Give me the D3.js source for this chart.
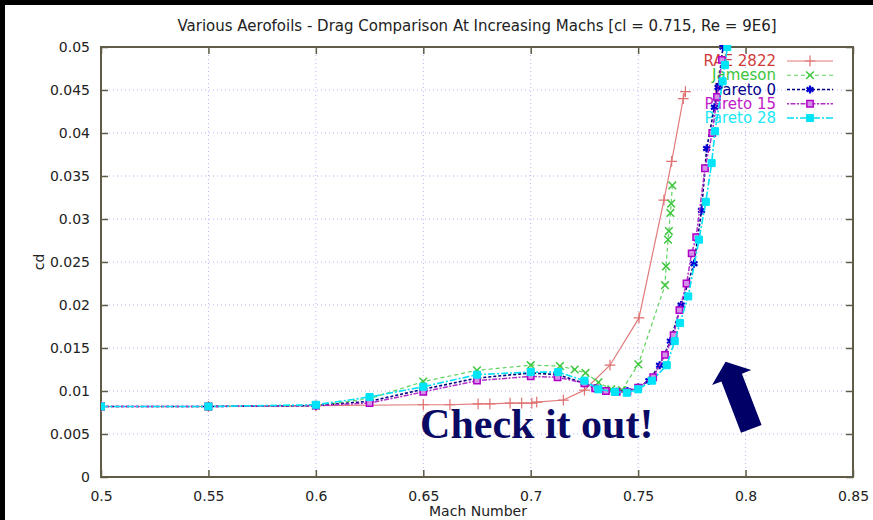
<!DOCTYPE html>
<html>
<head>
<meta charset="utf-8">
<script src="https://cdn.jsdelivr.net/npm/d3@7/dist/d3.min.js"></script>
<style>
  html, body { margin: 0; padding: 0; background: #000; }
  svg { display: block; font-family: "DejaVu Sans", "Liberation Sans", sans-serif; }
</style>
</head>
<body>
<svg id="chart" width="873" height="520"></svg>
<script>
// ---------- data ----------
const titleText = "Various Aerofoils - Drag Comparison At Increasing Machs [cl = 0.715, Re = 9E6]";
const xLabelText = "Mach Number";
const yLabelText = "cd";

const machTicks = [0.5, 0.55, 0.6, 0.65, 0.7, 0.75, 0.8, 0.85];
const machTickLabels = ["0.5", "0.55", "0.6", "0.65", "0.7", "0.75", "0.8", "0.85"];
const cdTicks = [0, 0.005, 0.01, 0.015, 0.02, 0.025, 0.03, 0.035, 0.04, 0.045, 0.05];
const cdTickLabels = ["0", "0.005", "0.01", "0.015", "0.02", "0.025", "0.03", "0.035", "0.04", "0.045", "0.05"];

const seriesNames = ["RAE 2822", "Jameson", "Pareto 0", "Pareto 15", "Pareto 28"];

const raeMach = [0.5, 0.55, 0.6, 0.65, 0.6624, 0.6755, 0.681, 0.6904, 0.6958, 0.7005, 0.7028, 0.7152, 0.725, 0.7369, 0.7504, 0.762, 0.7656, 0.771, 0.772];
const raeCd   = [0.0082, 0.0082, 0.0083, 0.0084, 0.0084, 0.0085, 0.0085, 0.0086, 0.0086, 0.0086, 0.0087, 0.00895, 0.0101, 0.0130, 0.0185, 0.0322, 0.0367, 0.0440, 0.0448];

const jamMach = [0.5, 0.55, 0.6, 0.625, 0.65, 0.675, 0.7, 0.7136, 0.7205, 0.7255, 0.7315, 0.7375, 0.7425, 0.7501, 0.7625, 0.763, 0.7639, 0.7643, 0.765, 0.7654, 0.7659];
const jamCd   = [0.0082, 0.0082, 0.0083, 0.0091, 0.0111, 0.0124, 0.0130, 0.0129, 0.0125, 0.0121, 0.0110, 0.0102, 0.0101, 0.0131, 0.0223, 0.0245, 0.0276, 0.0286, 0.0307, 0.0318, 0.0339];

const p0Mach = [0.5, 0.55, 0.6, 0.625, 0.65, 0.675, 0.7, 0.7125, 0.725, 0.73, 0.735, 0.74, 0.745, 0.75, 0.755, 0.76, 0.765, 0.77, 0.776, 0.7795, 0.7819, 0.7855, 0.7872, 0.7895];
const p0Cd   = [0.0082, 0.0082, 0.0083, 0.0088, 0.0102, 0.0115, 0.0121, 0.0119, 0.0109, 0.0103, 0.0100, 0.0099, 0.0100, 0.0104, 0.0112, 0.0130, 0.0158, 0.0200, 0.0248, 0.0310, 0.0382, 0.0430, 0.0453, 0.0500];

const p15Mach = [0.5, 0.55, 0.6, 0.625, 0.65, 0.675, 0.7, 0.7125, 0.725, 0.73, 0.735, 0.74, 0.745, 0.75, 0.757, 0.7625, 0.7665, 0.7692, 0.7725, 0.7749, 0.777, 0.7811, 0.7845, 0.7867, 0.789];
const p15Cd   = [0.0082, 0.0082, 0.0083, 0.0086, 0.0099, 0.0112, 0.0117, 0.0116, 0.0109, 0.0103, 0.0100, 0.0099, 0.0099, 0.0104, 0.0116, 0.0142, 0.0165, 0.0194, 0.0225, 0.0260, 0.0279, 0.0359, 0.0400, 0.0442, 0.0485];

const p28Mach = [0.5, 0.55, 0.6, 0.625, 0.65, 0.675, 0.7, 0.7128, 0.725, 0.7315, 0.7392, 0.7447, 0.75, 0.7565, 0.7633, 0.767, 0.7695, 0.7733, 0.7783, 0.7815, 0.7842, 0.7858, 0.7893, 0.7904, 0.7915];
const p28Cd   = [0.0082, 0.0082, 0.0084, 0.0093, 0.0105, 0.0119, 0.0122, 0.0122, 0.0112, 0.0102, 0.0099, 0.0098, 0.0102, 0.0112, 0.0130, 0.0158, 0.0179, 0.0210, 0.0276, 0.0320, 0.0365, 0.0402, 0.0460, 0.0479, 0.0500];

const annotationText = "Check it out!";
const annotationAt = [0.6485, 0.00453];      // mach, cd of text start/baseline
const arrowTipAt = [0.7907, 0.01341];        // mach, cd of arrow tip

// ---------- styles ----------
const styles = [
  { color: "#e27b7b", mcolor: "#e07070", txt: "#d03a3a", dash: null,        width: 1.2, symbol: d3.symbolPlus,     msize: 40, fill: "none",    mstroke: 1.2 },
  { color: "#5fd35f", mcolor: "#3fc83f", txt: "#3cc43c", dash: "4,3",       width: 1.2, symbol: d3.symbolX,        msize: 40, fill: "none",    mstroke: 1.5 },
  { color: "#000080", mcolor: "#0000d0", txt: "#00008c", dash: "3,2",       width: 1.6, symbol: d3.symbolAsterisk, msize: 45, fill: "none",    mstroke: 2.2 },
  { color: "#b02ec8", mcolor: "#b000c8", txt: "#c020c8", dash: "2,1.5,5,1.5", width: 1.5, symbol: d3.symbolSquare,   msize: 40, fill: "#d590e8", mstroke: 1.5 },
  { color: "#00e0f4", mcolor: "#00e4f8", txt: "#20e8f8", dash: "7,2,2,2",   width: 1.6, symbol: d3.symbolSquare,   msize: 50, fill: "#00e4f8", mstroke: 1 }
];
const seriesMach = [raeMach, jamMach, p0Mach, p15Mach, p28Mach];
const seriesCd = [raeCd, jamCd, p0Cd, p15Cd, p28Cd];

// ---------- layout ----------
const W = 873, H = 520;
const plot = { left: 101, right: 853, top: 47, bottom: 477 };

const svg = d3.select("#chart");
svg.append("rect").attr("x", 0).attr("y", 0).attr("width", W).attr("height", H).attr("fill", "#000");
svg.append("rect").attr("x", 5).attr("y", 5).attr("width", W - 5).attr("height", H - 5).attr("fill", "#fff");

const x = d3.scaleLinear().domain([0.5, 0.85]).range([plot.left, plot.right]);
const y = d3.scaleLinear().domain([0, 0.05]).range([plot.bottom, plot.top]);

// grid
const grid = svg.append("g");
grid.selectAll("line.gx").data(machTicks.slice(1, -1)).join("line")
  .attr("x1", d => x(d)).attr("x2", d => x(d))
  .attr("y1", plot.top).attr("y2", plot.bottom)
  .attr("stroke", "#b4b4f4").attr("stroke-width", 1).attr("stroke-dasharray", "1,3");
grid.selectAll("line.gy").data(cdTicks.slice(1, -1)).join("line")
  .attr("y1", d => y(d)).attr("y2", d => y(d))
  .attr("x1", plot.left).attr("x2", plot.right)
  .attr("stroke", "#b4b4f4").attr("stroke-width", 1).attr("stroke-dasharray", "1,3");

// axes
const axisColor = "#605c48";
const tickLen = 7;
function styleAxis(g) {
  g.select(".domain").remove();
  g.selectAll(".tick line").attr("stroke", axisColor).attr("stroke-width", 1.5);
  g.selectAll(".tick text").attr("fill", "#222")
    .style("font-size", "14px")
    .style("font-family", "'DejaVu Sans', 'Liberation Sans', sans-serif");
}
svg.append("g").attr("transform", `translate(0,${plot.bottom})`)
  .call(d3.axisBottom(x).tickValues(machTicks).tickFormat((d, i) => machTickLabels[i]).tickSize(-tickLen).tickPadding(14))
  .call(styleAxis);
svg.append("g").attr("transform", `translate(${plot.left},0)`)
  .call(d3.axisLeft(y).tickValues(cdTicks).tickFormat((d, i) => cdTickLabels[i]).tickSize(-tickLen).tickPadding(11))
  .call(styleAxis);
svg.append("g").attr("transform", `translate(0,${plot.top})`)
  .call(d3.axisTop(x).tickValues(machTicks).tickFormat("").tickSize(-tickLen))
  .call(styleAxis);
svg.append("g").attr("transform", `translate(${plot.right},0)`)
  .call(d3.axisRight(y).tickValues(cdTicks).tickFormat("").tickSize(-tickLen))
  .call(styleAxis);

// frame
svg.append("rect")
  .attr("x", plot.left).attr("y", plot.top)
  .attr("width", plot.right - plot.left).attr("height", plot.bottom - plot.top)
  .attr("fill", "none").attr("stroke", axisColor).attr("stroke-width", 2);

// titles
svg.append("text").attr("x", 477).attr("y", 31).attr("text-anchor", "middle")
  .style("font-size", "15px").attr("fill", "#222").text(titleText);
svg.append("text").attr("x", 478).attr("y", 516).attr("text-anchor", "middle")
  .style("font-size", "14px").attr("fill", "#222").text(xLabelText);
svg.append("text").attr("transform", "translate(44,262) rotate(-90)").attr("text-anchor", "middle")
  .style("font-size", "14px").attr("fill", "#222").text(yLabelText);

// legend (drawn under the curves)
const legend = svg.append("g");
const legendRowY = d3.scaleLinear().domain([0, 4]).range([61, 118]);
seriesNames.forEach((name, i) => {
  const s = styles[i];
  const ly = legendRowY(i);
  legend.append("text").attr("x", 776).attr("y", ly + 5).attr("text-anchor", "end")
    .style("font-size", "15px").attr("fill", s.txt).text(name);
  legend.append("line").attr("x1", 787).attr("x2", 833).attr("y1", ly).attr("y2", ly)
    .attr("stroke", s.color).attr("stroke-width", s.width).attr("stroke-dasharray", s.dash);
  legend.append("path").attr("transform", `translate(810,${ly})`)
    .attr("d", d3.symbol().type(s.symbol).size(s.msize)())
    .attr("fill", s.fill).attr("stroke", s.mcolor).attr("stroke-width", s.mstroke);
});

// curves
svg.append("clipPath").attr("id", "clip").append("rect")
  .attr("x", plot.left).attr("y", plot.top - 2)
  .attr("width", plot.right - plot.left).attr("height", plot.bottom - plot.top + 2);
const curves = svg.append("g").attr("clip-path", "url(#clip)");
const line = d3.line().x(d => x(d[0])).y(d => y(d[1]));
seriesNames.forEach((name, i) => {
  const s = styles[i];
  const pts = seriesMach[i].map((m, j) => [m, seriesCd[i][j]]);
  curves.append("path").datum(pts).attr("d", line)
    .attr("fill", "none").attr("stroke", s.color).attr("stroke-width", s.width)
    .attr("stroke-dasharray", s.dash);
  curves.selectAll(null).data(pts).join("path")
    .attr("transform", d => `translate(${x(d[0])},${y(d[1])})`)
    .attr("d", d3.symbol().type(s.symbol).size(s.msize)())
    .attr("fill", s.fill).attr("stroke", s.mcolor).attr("stroke-width", s.mstroke);
});

// annotation text
svg.append("text").attr("x", x(annotationAt[0])).attr("y", y(annotationAt[1]))
  .style("font-family", "'Liberation Serif', 'Times New Roman', serif")
  .style("font-weight", "bold")
  .style("font-size", "42px").attr("fill", "#0a0a64").text(annotationText);

// arrow annotation
(function () {
  const tx = x(arrowTipAt[0]), ty = y(arrowTipAt[1]);
  const len = 72, headLen = 17, headHalf = 21, shaftHalf = 11;
  const ux = 0.357, uy = 0.934;       // direction tip -> tail
  const nx = 0.934, ny = -0.357;      // perpendicular
  const hb = [tx + ux * headLen, ty + uy * headLen];
  const tb = [tx + ux * len, ty + uy * len];
  const pts = [
    [tx, ty],
    [hb[0] - nx * headHalf, hb[1] - ny * headHalf],
    [hb[0] - nx * shaftHalf, hb[1] - ny * shaftHalf],
    [tb[0] - nx * shaftHalf, tb[1] - ny * shaftHalf],
    [tb[0] + nx * shaftHalf, tb[1] + ny * shaftHalf],
    [hb[0] + nx * shaftHalf, hb[1] + ny * shaftHalf],
    [hb[0] + nx * headHalf, hb[1] + ny * headHalf]
  ];
  svg.append("path").attr("d", d3.line()(pts) + "Z").attr("fill", "#000066");
})();
</script>
</body>
</html>
